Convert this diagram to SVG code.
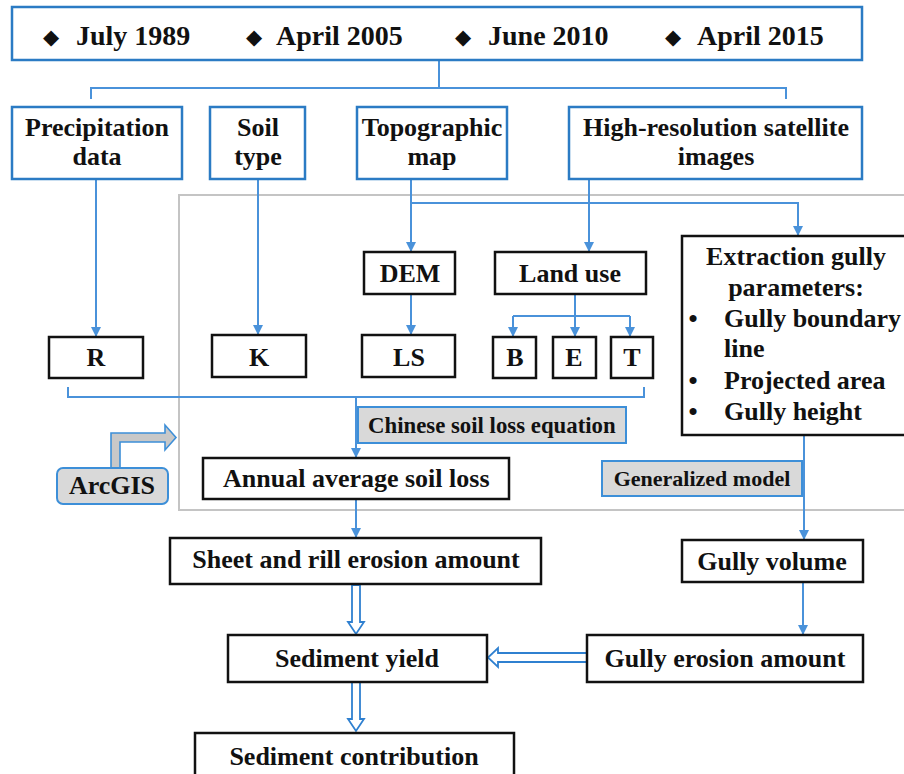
<svg xmlns="http://www.w3.org/2000/svg" width="904" height="774" viewBox="0 0 904 774">
<style>
text{font-family:"Liberation Serif","Times New Roman",serif;font-weight:bold;fill:#111;}
.t26{font-size:26px;}
.t28{font-size:28px;}
.t22{font-size:22px;}
.c{text-anchor:middle;}
.dia{font-family:"DejaVu Sans",sans-serif;font-size:21px;font-weight:normal;}
.bbox{fill:#fff;stroke:#2b7bc4;stroke-width:2.5;}
.kbox{fill:#fff;stroke:#111;stroke-width:2.5;}
.gbox{fill:#d9d9d9;stroke:#3d8fd8;stroke-width:2;}
.ln{fill:none;stroke:#4a92da;stroke-width:2;}
.ar{fill:none;stroke:#4a92da;stroke-width:2;marker-end:url(#ah);}
.hollow{fill:#fff;stroke:#2f80d0;stroke-width:1.8;stroke-linejoin:miter;}
</style>
<defs>
<marker id="ah" viewBox="0 0 10 10" refX="10" refY="5" markerWidth="5" markerHeight="5" markerUnits="strokeWidth" orient="auto">
<path d="M0,0 L10,5 L0,10 Z" fill="#4a92da"/>
</marker>
</defs>
<rect x="0" y="0" width="904" height="774" fill="#fff"/>

<rect id="region" x="179" y="195" width="740" height="315" fill="none" stroke="#c4c4c4" stroke-width="2"/>

<g id="connectors">
<path class="ln" d="M439,60 V88 M91,99 V88 H786 V99"/>
<path class="ar" d="M96,179 V337"/>
<path class="ar" d="M258,179 V335"/>
<path class="ar" d="M411,179 V252"/>
<path class="ar" d="M411,203 H798 V236"/>
<path class="ar" d="M589,179 V252"/>
<path class="ar" d="M411,294 V335"/>
<path class="ln" d="M575,294 V316 M513,316 H630"/>
<path class="ar" d="M513,316 V337"/>
<path class="ar" d="M575,316 V337"/>
<path class="ar" d="M630,316 V337"/>
<path class="ln" d="M68,387 V397 H644 V387"/>
<path class="ar" d="M356,397 V458"/>
<path class="ar" d="M356,499 V538"/>
<path class="ar" d="M804,435 V540"/>
<path class="ar" d="M803,582 V635"/>
<path class="hollow" d="M352,585 V622 H348 L356,634 L364,622 H360 V585 Z"/>
<path class="hollow" d="M588,653 H498 V648 L488,657.5 L498,667 V662 H588 Z"/>
<path class="hollow" d="M352,682 V719 H348 L356,731 L364,719 H360 V682 Z"/>
<path d="M111,468 V433 H165 V425 L176,437.5 L165,450 V442 H120 V468 Z" fill="#c8c8c8" stroke="#3d8fd8" stroke-width="1.6"/>
</g>

<g id="dates">
<rect class="bbox" x="12" y="7" width="850" height="53"/>
<text class="dia" x="51" y="44" text-anchor="middle">◆</text>
<text class="t28" x="76" y="45">July 1989</text>
<text class="dia" x="254" y="44" text-anchor="middle">◆</text>
<text class="t28" x="276" y="45">April 2005</text>
<text class="dia" x="463" y="44" text-anchor="middle">◆</text>
<text class="t28" x="488" y="45">June 2010</text>
<text class="dia" x="673" y="44" text-anchor="middle">◆</text>
<text class="t28" x="697" y="45">April 2015</text>
</g>

<g id="precipitation">
<rect class="bbox" x="12" y="107" width="170" height="72"/>
<text class="t26 c" x="97" y="136">Precipitation</text>
<text class="t26 c" x="97" y="165">data</text>
</g>
<g id="soiltype">
<rect class="bbox" x="210" y="107" width="95" height="72"/>
<text class="t26 c" x="258" y="136">Soil</text>
<text class="t26 c" x="258" y="165">type</text>
</g>
<g id="topographic">
<rect class="bbox" x="357" y="107" width="150" height="72"/>
<text class="t26 c" x="432" y="136">Topographic</text>
<text class="t26 c" x="432" y="165">map</text>
</g>
<g id="satellite">
<rect class="bbox" x="569" y="107" width="293" height="72"/>
<text class="t26 c" x="716" y="136">High-resolution satellite</text>
<text class="t26 c" x="716" y="165">images</text>
</g>

<g id="dem">
<rect class="kbox" x="364" y="252" width="91" height="42"/>
<text class="t26 c" x="410" y="282">DEM</text>
</g>
<g id="landuse">
<rect class="kbox" x="495" y="252" width="151" height="42"/>
<text class="t26 c" x="570" y="282">Land use</text>
</g>
<g id="extraction">
<rect class="kbox" x="682" y="236" width="230" height="199"/>
<text class="t26 c" x="796" y="265">Extraction gully</text>
<text class="t26 c" x="796" y="296">parameters:</text>
<text class="t26 c" x="693" y="327">•</text>
<text class="t26" x="724" y="327">Gully boundary</text>
<text class="t26" x="724" y="357">line</text>
<text class="t26 c" x="693" y="389">•</text>
<text class="t26" x="724" y="389">Projected area</text>
<text class="t26 c" x="693" y="420">•</text>
<text class="t26" x="724" y="420">Gully height</text>
</g>

<g id="r">
<rect class="kbox" x="49" y="337" width="94" height="41"/>
<text class="t26 c" x="96" y="366">R</text>
</g>
<g id="k">
<rect class="kbox" x="212" y="335" width="94" height="42"/>
<text class="t26 c" x="259" y="366">K</text>
</g>
<g id="ls">
<rect class="kbox" x="362" y="335" width="93" height="42"/>
<text class="t26 c" x="409" y="366">LS</text>
</g>
<g id="b">
<rect class="kbox" x="493" y="337" width="43" height="41"/>
<text class="t26 c" x="515" y="366">B</text>
</g>
<g id="e">
<rect class="kbox" x="553" y="337" width="43" height="41"/>
<text class="t26 c" x="574" y="366">E</text>
</g>
<g id="t">
<rect class="kbox" x="611" y="337" width="42" height="41"/>
<text class="t26 c" x="632" y="366">T</text>
</g>

<g id="csle">
<rect class="gbox" x="358" y="407" width="268" height="36"/>
<text class="t22" x="368" y="433" style="font-size:22.8px">Chinese soil loss equation</text>
</g>
<g id="arcgis">
<rect class="gbox" x="57" y="468" width="111" height="36" rx="6"/>
<text class="t26 c" x="112" y="494">ArcGIS</text>
</g>
<g id="annual">
<rect class="kbox" x="203" y="458" width="306" height="41"/>
<text class="t26" x="223" y="487">Annual average soil loss</text>
</g>
<g id="generalized">
<rect class="gbox" x="602" y="461" width="200" height="35"/>
<text class="t22 c" x="702" y="486">Generalized model</text>
</g>

<g id="sheet">
<rect class="kbox" x="170" y="538" width="371" height="46"/>
<text class="t26 c" x="356" y="568">Sheet and rill erosion amount</text>
</g>
<g id="gullyvolume">
<rect class="kbox" x="682" y="540" width="181" height="42"/>
<text class="t26 c" x="772" y="570">Gully volume</text>
</g>
<g id="sediment">
<rect class="kbox" x="228" y="635" width="259" height="47"/>
<text class="t26 c" x="357" y="667">Sediment yield</text>
</g>
<g id="gullyerosion">
<rect class="kbox" x="587" y="635" width="276" height="47"/>
<text class="t26 c" x="725" y="667">Gully erosion amount</text>
</g>
<g id="contribution">
<rect class="kbox" x="195" y="733" width="319" height="60"/>
<text class="t26 c" x="354" y="765">Sediment contribution</text>
</g>
</svg>
